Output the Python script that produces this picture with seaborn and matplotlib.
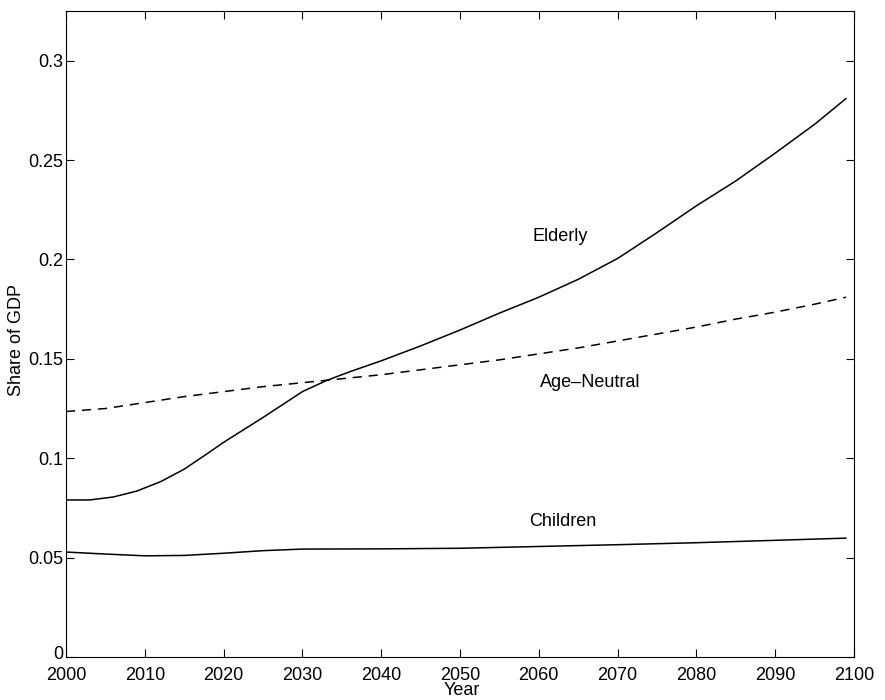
import matplotlib
matplotlib.use("Agg")
import matplotlib.pyplot as plt
import matplotlib.transforms as mtransforms
import seaborn as sns

# Spending shares of GDP by program, 2000-2099
elderly_years = [2000, 2003, 2006, 2009, 2012, 2015, 2018, 2020, 2025, 2030, 2033,
                 2036, 2040, 2045, 2050, 2055, 2060, 2065, 2070, 2075, 2080, 2085,
                 2090, 2095, 2099]
elderly = [0.079, 0.079, 0.0805, 0.0835, 0.0882, 0.0945, 0.1025, 0.108, 0.1205,
           0.1335, 0.139, 0.1435, 0.149, 0.1565, 0.1645, 0.173, 0.181, 0.190, 0.2005,
           0.2135, 0.227, 0.2395, 0.2535, 0.268, 0.281]

neutral_years = [2000, 2005, 2010, 2015, 2020, 2025, 2030, 2035, 2040, 2045, 2050,
                 2055, 2060, 2065, 2070, 2075, 2080, 2085, 2090, 2095, 2099]
age_neutral = [0.1235, 0.125, 0.128, 0.131, 0.1335, 0.136, 0.138, 0.140, 0.142,
               0.1445, 0.147, 0.1495, 0.1525, 0.1555, 0.159, 0.1625, 0.166, 0.170,
               0.1735, 0.1775, 0.181]

children_years = [2000, 2005, 2010, 2015, 2020, 2025, 2030, 2040, 2050, 2060, 2070,
                  2080, 2090, 2099]
children = [0.0528, 0.0518, 0.0509, 0.0511, 0.0522, 0.0535, 0.0543, 0.0544, 0.0547,
            0.0556, 0.0565, 0.0575, 0.0587, 0.0598]

x_ticks = list(range(2000, 2101, 10))
y_ticks = [0, 0.05, 0.1, 0.15, 0.2, 0.25, 0.3]
y_tick_labels = ["0", "0.05", "0.1", "0.15", "0.2", "0.25", "0.3"]

sns.set_style("ticks")
plt.rcParams["font.family"] = ["Liberation Sans", "DejaVu Sans"]
plt.rcParams["axes.linewidth"] = 0.8
plt.rcParams["text.color"] = "black"
plt.rcParams["axes.labelcolor"] = "black"

FS = 13

fig = plt.figure(figsize=(8.85, 7.0), dpi=100)
ax = fig.add_axes([66 / 885, 1 - 657 / 700, (854 - 66) / 885, (657 - 11) / 700])

line_kw = dict(color="black", linewidth=1.1, ax=ax)
sns.lineplot(x=elderly_years, y=elderly, **line_kw)
sns.lineplot(x=neutral_years, y=age_neutral, **line_kw)
ax.lines[-1].set_dashes((6, 4.5))
sns.lineplot(x=children_years, y=children, **line_kw)

ax.set_xlim(2000, 2100)
ax.set_ylim(0, 0.325)
ax.set_xticks(x_ticks)
ax.set_yticks(y_ticks)
ax.set_yticklabels(y_tick_labels)
ax.tick_params(direction="in", length=6, width=0.8, top=True, right=True,
               labelsize=FS, colors="black")
ax.tick_params(axis="x", pad=7)
ax.tick_params(axis="y", pad=2)
for s in ax.spines.values():
    s.set_color("black")
    s.set_visible(True)

# lift the zero label a little so it sits clear of the first year label
zero_label = ax.get_yticklabels()[0]
zero_label.set_transform(zero_label.get_transform() +
                         mtransforms.ScaledTranslation(0, 3 / 72, fig.dpi_scale_trans))

ax.set_xlabel("Year", fontsize=FS)
ax.xaxis.set_label_coords(0.5025, -0.052)
ax.xaxis.label.set_va("center")
ax.set_ylabel("Share of GDP", fontsize=FS)
ax.yaxis.set_label_coords(-0.063, 0.49)
ax.yaxis.label.set_va("center")

ax.text(2062.7, 0.2116, "Elderly", fontsize=FS, ha="center", va="center")
ax.text(2066.5, 0.138, "Age\u2013Neutral", fontsize=FS, ha="center", va="center")
ax.text(2063.0, 0.068, "Children", fontsize=FS, ha="center", va="center")

fig.savefig("out.png", dpi=100, facecolor="white")
